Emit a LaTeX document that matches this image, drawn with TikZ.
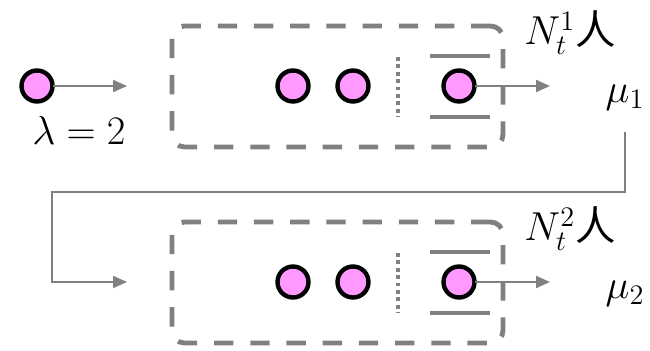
\RequirePackage{fix-cm}
\documentclass[tikz,border=0pt]{standalone}
\usepackage{fontspec}
\usepackage{tikz}
\usetikzlibrary{arrows.meta}
\newfontfamily\cjk{Noto Sans CJK SC}
\definecolor{cust}{RGB}{255,153,255}
\definecolor{ln}{RGB}{128,128,128}

\begin{document}
\begin{tikzpicture}[
  cust/.style={circle, draw=black, fill=cust, line width=2.5pt, minimum size=0.62cm, inner sep=0pt, outer sep=0pt},
  qbox/.style={draw=ln, line width=2.8pt, dash pattern=on 11pt off 9.6pt, rounded corners=0.25cm, minimum width=6.62cm, minimum height=2.42cm},
  bar/.style={draw=ln, line width=2.8pt},
  sep/.style={draw=ln, line width=2.7pt, dash pattern=on 2.2pt off 2pt},
  flow/.style={draw=ln, line width=1.1pt, -{Triangle[length=0.28cm,width=0.24cm]}},
  lab/.style={font=\fontsize{23}{27}\selectfont, inner sep=0pt}]
\useasboundingbox (0,0) rectangle (13,7.02);

% first station
\node[qbox] (box1) at (6.75,5.29) {};
\node[cust] (src) at (0.74,5.3) {};
\coordinate (in1) at (2.54,5.3);
\node[lab] (lam) at (1.58,4.42) {$\lambda=2$};
\node[cust] (w11) at (5.86,5.3) {};
\node[cust] (w12) at (7.06,5.3) {};
\node[cust] (s1) at (9.18,5.3) {};
\draw[sep] (7.96,5.88) -- (7.96,4.68);
\draw[bar] (8.6,5.9) -- (9.8,5.9);
\draw[bar] (8.6,4.68) -- (9.8,4.68);
\coordinate (out1) at (11,5.3);
\node[lab] (n1) at (11.4,6.36) {$N_t^1${\cjk 人}};
\node[lab] (mu1) at (12.5,5.06) {$\mu_1$};

% second station
\node[qbox] (box2) at (6.75,1.37) {};
\coordinate (in2) at (2.54,1.38);
\node[cust] (w21) at (5.86,1.38) {};
\node[cust] (w22) at (7.06,1.38) {};
\node[cust] (s2) at (9.18,1.38) {};
\draw[sep] (7.96,1.96) -- (7.96,0.76);
\draw[bar] (8.6,1.98) -- (9.8,1.98);
\draw[bar] (8.6,0.76) -- (9.8,0.76);
\coordinate (out2) at (11,1.38);
\node[lab] (n2) at (11.4,2.44) {$N_t^2${\cjk 人}};
\node[lab] (mu2) at (12.5,1.14) {$\mu_2$};

% flows
\draw[flow] (src) -- (in1);
\draw[flow] (s1) -- (out1);
\draw[flow] (s2) -- (out2);
\coordinate (turn) at (12.5,4.38);
\draw[flow, line width=1pt] (turn) -- (12.5,3.18) -| (1.04,1.38) -- (in2);
\end{tikzpicture}
\end{document}
